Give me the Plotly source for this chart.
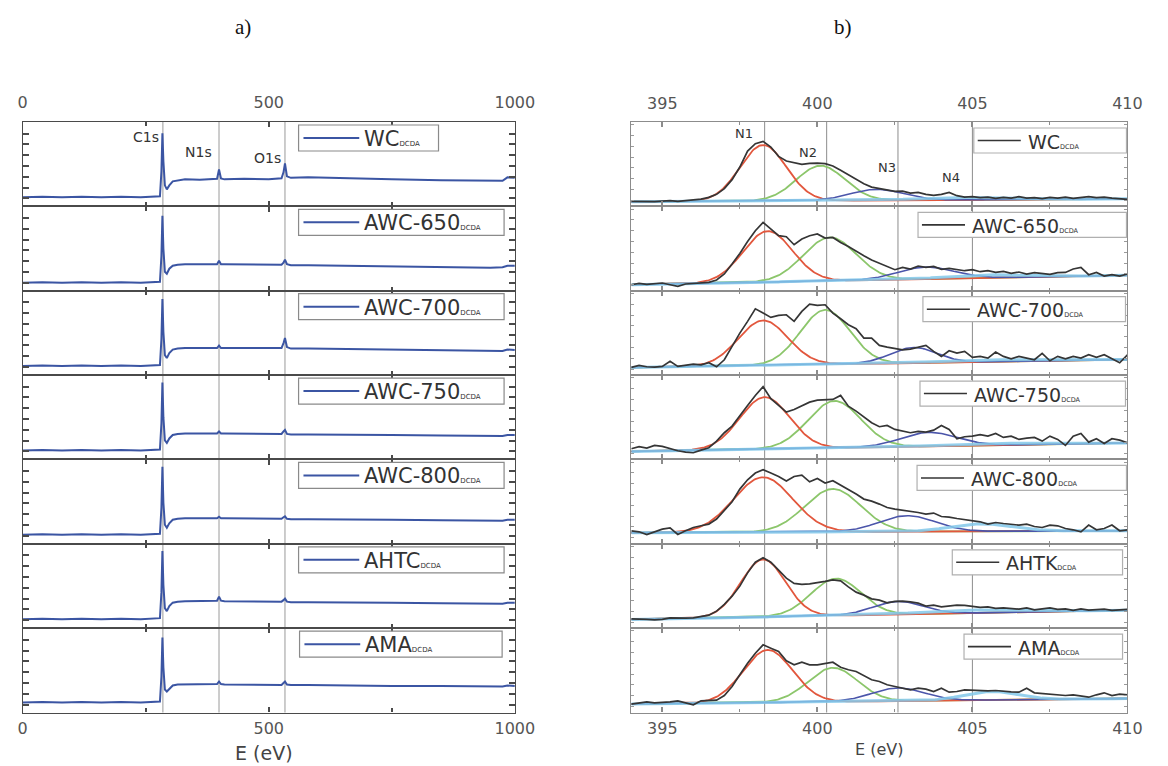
import numpy as np
import plotly.graph_objects as go

FIG_W, FIG_H = 1168, 766

# ---------------------------------------------------------------- data ----
SURVEY_SAMPLES = ["WC", "AWC-650", "AWC-700", "AWC-750", "AWC-800", "AHTC", "AMA"]
N1S_SAMPLES = ["WC", "AWC-650", "AWC-700", "AWC-750", "AWC-800", "AHTK", "AMA"]

# survey spectra, binding energy (eV) and intensity (a.u.)
SURVEY_E = [0, 40, 80, 120, 160, 200, 240, 270, 279, 282, 284, 286, 289, 293, 298,
            305, 315, 330, 360, 390, 395, 399, 403, 410, 450, 500, 526, 530, 533,
            537, 545, 580, 650, 750, 850, 950, 975, 985, 1000]
SURVEY_WC = [9, 9.5, 9, 9.5, 9, 9.5, 9, 9.5, 10, 35, 73, 45, 21, 17, 21,
             25, 26, 27, 26.5, 27, 27.5, 37, 28, 27, 27.5, 27, 28, 34, 43,
             30, 28.5, 29, 28, 27, 26, 25, 25.5, 29, 28.5]
SURVEY_AWC650 = [8, 8.5, 8, 8.5, 8, 8.5, 8, 8.5, 9, 35, 75, 42, 19, 17, 22,
                 25, 26, 26.5, 26.5, 26.5, 26.5, 30, 26.5, 26.5, 26.5, 26, 26, 28, 31,
                 26.5, 25.5, 25.5, 25, 24.5, 24, 23, 23.5, 25, 25]
SURVEY_AWC700 = [9, 9.5, 9, 9.5, 9, 9.5, 9, 9.5, 10, 36, 76, 43, 20, 17, 22,
                 25.5, 26.5, 27, 27, 27, 27, 29.5, 27, 27, 27, 26.5, 27, 32, 37,
                 28, 26.5, 26.5, 26, 25.5, 25, 24, 24, 25.5, 25]
SURVEY_AWC750 = [9, 9.5, 9, 9.5, 9, 9.5, 9, 9.5, 10, 36, 77, 42, 19, 16.5, 21,
                 24.5, 25.5, 26, 26, 26, 26, 28, 26, 26, 26, 25.5, 25.5, 28, 29.5,
                 25.5, 25, 25, 24.5, 24.5, 24, 23.5, 23.5, 24.5, 24.5]
SURVEY_AWC800 = [9, 9.5, 9, 9.5, 9, 9.5, 9, 9.5, 10, 36, 77, 41, 19, 16, 20.5,
                 24, 25, 25.5, 25.5, 25.5, 25.5, 27, 25.5, 25.5, 25.5, 25, 25, 26.5, 27.5,
                 25, 24.5, 24.5, 24, 24, 23.5, 23, 23, 24, 24]
SURVEY_AHTC = [9, 9.5, 9, 9.5, 9, 9.5, 9, 9.5, 10, 36, 77, 43, 20, 17, 22,
               25.5, 26.5, 27, 27, 27, 27.5, 31.5, 27.5, 27, 27, 26.5, 26.5, 28, 29.5,
               26.5, 26, 26, 25.5, 25.5, 25, 24.5, 24.5, 25.5, 25.5]
SURVEY_AMA = [10, 10.5, 10, 10.5, 10, 10.5, 10, 10.5, 11, 36, 75, 45, 23, 21, 24,
              27, 28, 28, 28, 28, 28.5, 31, 28.5, 28, 28, 27.5, 27.5, 29.5, 31,
              28, 27.5, 27.5, 27, 26.5, 26.5, 26, 26, 27, 26.5]
SURVEY_I = [SURVEY_WC, SURVEY_AWC650, SURVEY_AWC700, SURVEY_AWC750,
            SURVEY_AWC800, SURVEY_AHTC, SURVEY_AMA]

CORE_LEVELS = ["C1s", "N1s", "O1s"]
CORE_LEVEL_E = [285, 399, 533]

# N 1s high-resolution spectra, 0.25 eV steps from 394 to 410 eV
N1S_E = [394 + 0.25 * k for k in range(65)]
N1S_WC = [5.0, 4.7, 5.0, 4.7, 5.3, 5.7, 5.0, 5.7, 6.3, 7.3,
          9.0, 12.0, 17.7, 26.7, 39.3, 55.3, 62.7, 65.0, 59.3, 50.0,
          45.3, 43.7, 42.0, 43.0, 43.3, 42.7, 40.3, 36.0, 31.7, 27.7,
          22.7, 19.3, 18.0, 16.0, 15.0, 15.3, 13.3, 14.0, 12.0, 11.0,
          12.0, 14.0, 10.7, 9.3, 9.7, 8.7, 9.3, 8.0, 9.0, 8.3,
          9.7, 8.3, 8.7, 7.7, 9.0, 8.3, 9.3, 8.0, 9.0, 9.7,
          8.7, 9.3, 8.3, 7.7, 7.0]
N1S_AWC650 = [6.0, 7.3, 6.3, 7.0, 7.7, 6.0, 4.3, 6.7, 7.0, 7.7,
              8.3, 10.7, 16.7, 26.7, 37.3, 49.3, 60.0, 68.3, 61.7, 55.0,
              54.0, 46.0, 51.7, 55.0, 56.7, 52.7, 53.3, 48.3, 44.3, 39.3,
              35.0, 30.7, 27.3, 24.3, 21.0, 23.3, 21.7, 24.7, 23.3, 24.3,
              21.3, 22.3, 21.0, 20.0, 21.0, 19.0, 20.0, 18.3, 19.3, 17.3,
              18.7, 16.7, 18.0, 17.0, 16.3, 18.0, 18.3, 21.7, 23.3, 16.0,
              18.3, 14.7, 16.0, 14.7, 16.7]
N1S_AWC700 = [7.7, 9.7, 8.3, 8.0, 8.7, 13.7, 8.7, 9.7, 11.0, 10.3,
              12.3, 8.3, 15.3, 28.7, 42.0, 53.7, 66.3, 62.0, 57.7, 59.7,
              60.3, 53.7, 63.7, 71.0, 69.7, 70.3, 62.0, 56.3, 50.3, 46.3,
              37.0, 37.0, 29.7, 28.0, 26.3, 25.3, 26.0, 27.7, 29.7, 23.7,
              18.7, 24.3, 22.0, 23.7, 17.7, 18.7, 17.0, 23.0, 18.7, 16.3,
              18.7, 17.0, 15.3, 21.7, 14.3, 18.7, 16.3, 18.7, 17.0, 20.3,
              17.7, 20.3, 16.3, 12.3, 20.3]
N1S_AWC750 = [10.7, 12.7, 11.3, 14.0, 13.0, 10.7, 8.7, 7.3, 6.7, 9.3,
              11.7, 18.3, 26.7, 33.3, 44.0, 54.0, 64.0, 72.7, 60.7, 54.0,
              47.3, 50.0, 54.0, 57.3, 59.3, 60.0, 60.0, 64.0, 53.3, 48.3,
              42.7, 36.7, 32.7, 34.0, 30.0, 28.3, 26.7, 28.0, 27.3, 29.3,
              34.0, 30.0, 20.7, 22.7, 23.3, 24.7, 23.3, 26.0, 22.0, 23.3,
              20.0, 21.3, 22.0, 18.3, 23.3, 20.0, 14.0, 23.3, 26.0, 17.3,
              20.7, 16.0, 20.7, 19.3, 16.7]
N1S_AWC800 = [13.0, 12.0, 9.3, 12.0, 14.7, 16.0, 9.3, 13.0, 16.3, 18.0,
              19.7, 24.7, 33.0, 42.0, 54.7, 64.0, 70.7, 74.0, 70.7, 67.3,
              62.7, 67.3, 68.7, 62.0, 65.3, 60.7, 63.0, 58.7, 54.0, 49.7,
              44.7, 42.7, 39.7, 36.3, 34.7, 33.7, 32.7, 31.3, 29.7, 30.7,
              27.3, 26.7, 25.3, 24.0, 23.0, 22.0, 19.7, 21.3, 20.3, 19.3,
              18.7, 19.7, 17.3, 16.3, 18.7, 18.0, 15.3, 14.0, 12.0, 18.7,
              14.0, 15.3, 18.7, 13.0, 14.0]
N1S_AHTK = [9.3, 8.7, 8.7, 8.3, 8.7, 10.3, 10.0, 10.0, 10.3, 11.3,
            13.0, 17.0, 23.7, 32.0, 42.0, 55.3, 66.0, 70.3, 66.0, 58.0,
            50.0, 44.7, 43.7, 44.3, 45.3, 46.7, 48.3, 47.3, 41.3, 36.0,
            33.0, 29.3, 28.0, 25.3, 26.7, 27.0, 26.3, 25.0, 22.0, 23.0,
            21.3, 22.0, 23.0, 22.7, 21.7, 20.7, 21.3, 19.7, 20.3, 20.0,
            19.0, 20.3, 18.3, 19.3, 20.3, 18.7, 19.3, 17.7, 19.3, 18.0,
            18.7, 19.0, 17.7, 18.3, 18.7]
N1S_AMA = [8.3, 9.3, 10.7, 9.7, 10.0, 10.7, 11.7, 9.7, 7.7, 11.7,
           11.7, 12.3, 17.0, 26.0, 37.7, 49.3, 59.3, 67.7, 64.3, 61.0,
           51.7, 47.7, 50.3, 47.7, 47.7, 49.0, 50.3, 45.3, 42.7, 41.0,
           37.0, 32.7, 31.0, 27.7, 26.0, 24.3, 22.7, 24.3, 23.3, 21.0,
           24.3, 20.3, 21.0, 22.7, 22.3, 22.0, 21.7, 22.0, 21.0, 20.7,
           20.3, 24.3, 19.7, 19.0, 18.3, 17.7, 17.0, 17.7, 16.3, 15.3,
           17.7, 19.7, 17.0, 18.3, 17.7]
N1S_I = [N1S_WC, N1S_AWC650, N1S_AWC700, N1S_AWC750, N1S_AWC800, N1S_AHTK, N1S_AMA]

N_SPECIES = ["N1", "N2", "N3", "N4"]
N_SPECIES_E = [398.3, 400.3, 402.6, 405.0]

# Gaussian fit components: centre (eV), height (a.u.), sigma (eV)
N1_POS = [398.25, 398.4, 398.25, 398.3, 398.25, 398.25, 398.4]
N1_AMP = [56, 51, 45, 52, 55, 57.5, 52.5]
N1_SIG = [0.75, 0.8, 0.8, 0.8, 0.95, 0.72, 0.8]
N2_POS = [400.1, 400.4, 400.25, 400.55, 400.5, 400.6, 400.5]
N2_AMP = [35, 43.5, 54.5, 47, 43, 37, 34]
N2_SIG = [0.78, 0.85, 0.8, 0.85, 0.9, 0.8, 0.8]
N3_POS = [401.9, 403.5, 403.1, 403.6, 402.9, 402.6, 402.6]
N3_AMP = [11, 12, 15.5, 14, 16, 13, 13]
N3_SIG = [0.85, 0.9, 0.75, 0.9, 0.9, 0.8, 0.85]
N4_POS = [404.5, 405.5, 405.5, 405.5, 405.3, 405.0, 405.6]
N4_AMP = [2.5, 3, 2, 2, 7.5, 3, 8.5]
N4_SIG = [1.2, 1.3, 1.5, 1.3, 1.0, 1.5, 0.85]
# linear background at 394 eV and 410 eV
BG_LOW = [4.5, 6.0, 7.5, 8.0, 11.0, 8.7, 8.5]
BG_HIGH = [7.5, 15.5, 15.5, 16.5, 13.0, 18.0, 14.0]

# ------------------------------------------------------------ styling ----
FONT = "DejaVu Sans"
SURVEY_BLUE = "#3b55a3"
TRACE_DARK = "#353535"
C_N1, C_N2, C_N3, C_N4 = "#e2573d", "#8cc66b", "#4b55aa", "rgba(130,200,234,0.85)"

PANEL_X = [(18, 521), (640, 1147)]
ROW_TOP, ROW_BOT = 122.0, 712.5
ROW_H = (ROW_BOT - ROW_TOP) / 7


def px_x(p):
    return p / FIG_W


def px_y(p):
    return 1 - p / FIG_H


fig = go.Figure()
layout = {}

e_fine = np.linspace(394, 410, 401)


def gauss(pos, amp, sig):
    return amp * np.exp(-0.5 * ((e_fine - pos) / sig) ** 2)


for panel in range(2):
    for row in range(7):
        n = panel * 7 + row + 1
        xa = "xaxis" if n == 1 else f"xaxis{n}"
        ya = "yaxis" if n == 1 else f"yaxis{n}"
        xr = "x" if n == 1 else f"x{n}"
        yr = "y" if n == 1 else f"y{n}"
        x0p, x1p = PANEL_X[panel]
        top = ROW_TOP + row * ROW_H
        bot = top + ROW_H

        if panel == 0:
            frame = dict(linecolor="#4a4a4a", linewidth=1.3)
            xcfg = dict(range=[0, 1000], tickvals=[0, 500, 1000],
                        minor=dict(dtick=250, tick0=0, ticks="inside", ticklen=4,
                                   tickcolor="#4a4a4a", tickwidth=1.5))
            ycfg = dict(tickmode="linear", tick0=8, dtick=10.8, ticklen=6,
                        tickcolor="#4a4a4a", tickwidth=1.5)
        else:
            frame = dict(linecolor="#8c8c8c", linewidth=1.1)
            xcfg = dict(range=[394, 410], tickvals=[395, 400, 405, 410],
                        minor=dict(dtick=2.5, tick0=395, ticks="inside", ticklen=3,
                                   tickcolor="#8c8c8c", tickwidth=1))
            ycfg = dict(tickmode="linear", tick0=6, dtick=10.8, ticklen=3,
                        tickcolor="#9a9a9a", tickwidth=1)

        show_lab = row in (0, 6)
        layout[xa] = dict(
            domain=[px_x(x0p), px_x(x1p)], anchor=yr,
            side="top" if row == 0 else "bottom",
            showticklabels=show_lab, ticks="inside", ticklen=5,
            tickcolor=frame["linecolor"], tickwidth=1.5,
            ticklabelstandoff=6 if row == 0 else 1,
            tickfont=dict(family=FONT, size=16, color="#555555"),
            showgrid=False, zeroline=False, showline=True, mirror="ticks",
            fixedrange=True, **frame, **xcfg)
        layout[ya] = dict(
            domain=[px_y(bot), px_y(top)], anchor=xr, range=[0, ROW_H],
            showticklabels=False, ticks="inside", showgrid=False, zeroline=False,
            showline=True, mirror="ticks", fixedrange=True, **frame, **ycfg)

        if panel == 0:
            fig.add_trace(go.Scatter(
                x=SURVEY_E, y=SURVEY_I[row], mode="lines", xaxis=xr, yaxis=yr,
                line=dict(color=SURVEY_BLUE, width=2), showlegend=False,
                name=SURVEY_SAMPLES[row]))
        else:
            bg = BG_LOW[row] + (BG_HIGH[row] - BG_LOW[row]) * (e_fine - 394) / 16
            comps = [
                (gauss(N2_POS[row], N2_AMP[row], N2_SIG[row]), C_N2, 1.8),
                (gauss(N1_POS[row], N1_AMP[row], N1_SIG[row]), C_N1, 1.8),
                (gauss(N3_POS[row], N3_AMP[row], N3_SIG[row]), C_N3, 1.6),
                (gauss(N4_POS[row], N4_AMP[row], N4_SIG[row]), C_N4, 3.0),
            ]
            for comp, col, w in comps:
                fig.add_trace(go.Scatter(
                    x=e_fine, y=bg + comp, mode="lines", xaxis=xr, yaxis=yr,
                    line=dict(color=col, width=w), showlegend=False,
                    hoverinfo="skip"))
            fig.add_trace(go.Scatter(
                x=N1S_E, y=N1S_I[row], mode="lines", xaxis=xr, yaxis=yr,
                line=dict(color=TRACE_DARK, width=1.7), showlegend=False,
                name=N1S_SAMPLES[row]))

shapes = []
annotations = []

# reference lines at the core-level / species energies
for e in CORE_LEVEL_E:
    shapes.append(dict(type="line", xref="x", yref="paper", x0=e, x1=e,
                       y0=px_y(ROW_BOT), y1=px_y(ROW_TOP), layer="below",
                       line=dict(color="#9a9a9a", width=1)))
for e in N_SPECIES_E:
    shapes.append(dict(type="line", xref="x8", yref="paper", x0=e, x1=e,
                       y0=px_y(ROW_BOT), y1=px_y(ROW_TOP), layer="below",
                       line=dict(color="#8c8c8c", width=1)))

# legend boxes (left/right pixel extents and top offset within each row)
LEG_LEFT = [(300, 443), (300, 510), (300, 510), (300, 510), (300, 510), (300, 510), (301, 508)]
LEG_RIGHT = [(990, 1146), (933, 1146), (938, 1145), (935, 1145), (932, 1146), (968, 1142), (980, 1142)]

for panel in range(2):
    for row in range(7):
        top = ROW_TOP + row * ROW_H
        if panel == 0:
            x0, x1 = LEG_LEFT[row]
            y0, y1 = top + 3, top + 29
            border, samp_col, samp_w = "#8a8a8a", SURVEY_BLUE, 2
            l0, l1, tx = x0 + 5, x0 + 62, x0 + 65
            label, fs, sub = SURVEY_SAMPLES[row], 21, 7
        else:
            x0, x1 = LEG_RIGHT[row]
            y0, y1 = top + 6, top + 31
            border, samp_col, samp_w = "#b0b0b0", TRACE_DARK, 1.6
            l0, l1, tx = x0 + 4, x0 + 48, x0 + 53
            label, fs, sub = N1S_SAMPLES[row], 19, 6.5
        ym = (y0 + y1) / 2
        shapes.append(dict(type="rect", xref="paper", yref="paper",
                           x0=px_x(x0), x1=px_x(x1), y0=px_y(y1), y1=px_y(y0),
                           fillcolor="white", line=dict(color=border, width=1.2),
                           layer="above"))
        shapes.append(dict(type="line", xref="paper", yref="paper",
                           x0=px_x(l0), x1=px_x(l1), y0=px_y(ym), y1=px_y(ym),
                           line=dict(color=samp_col, width=samp_w), layer="above"))
        annotations.append(dict(
            xref="paper", yref="paper", x=px_x(tx), y=px_y(ym + 1),
            xanchor="left", yanchor="middle", showarrow=False,
            text=f"{label}<span style='font-size:{sub}px'>DCDA</span>",
            font=dict(family=FONT, size=fs, color="#333333")))

# peak labels
CORE_LABEL_X = [250, 358, 497]
CORE_LABEL_Y = [137, 152, 158]
for lab, x, y in zip(CORE_LEVELS, CORE_LABEL_X, CORE_LABEL_Y):
    annotations.append(dict(xref="x", yref="paper", x=x, y=px_y(y), text=lab,
                            showarrow=False, xanchor="center", yanchor="middle",
                            font=dict(family=FONT, size=14, color="#333333")))
SPECIES_LABEL_X = [397.65, 399.7, 402.24, 404.31]
SPECIES_LABEL_Y = [133, 153, 167, 177]
for lab, x, y in zip(N_SPECIES, SPECIES_LABEL_X, SPECIES_LABEL_Y):
    annotations.append(dict(xref="x8", yref="paper", x=x, y=px_y(y), text=lab,
                            showarrow=False, xanchor="center", yanchor="middle",
                            font=dict(family=FONT, size=13, color="#333333")))

# panel captions and axis titles
def caption(x, y, text, family, size, color):
    return dict(xref="paper", yref="paper", x=px_x(x), y=px_y(y), text=text,
                xanchor="center", yanchor="middle", showarrow=False,
                font=dict(family=family, size=size, color=color))


annotations += [
    caption(243, 27, "a)", "Liberation Serif", 21, "#111111"),
    caption(856, 27, "b)", "Liberation Serif", 21, "#111111"),
    caption(265, 753, "E (eV)", FONT, 19, "#444444"),
    caption(893, 749, "E (eV)", FONT, 16, "#444444"),
]

fig.update_layout(
    width=FIG_W, height=FIG_H, margin=dict(l=0, r=0, t=0, b=0),
    paper_bgcolor="white", plot_bgcolor="rgba(0,0,0,0)",
    font=dict(family=FONT), showlegend=False,
    shapes=shapes, annotations=annotations, **layout)

fig.write_html("out.html")
